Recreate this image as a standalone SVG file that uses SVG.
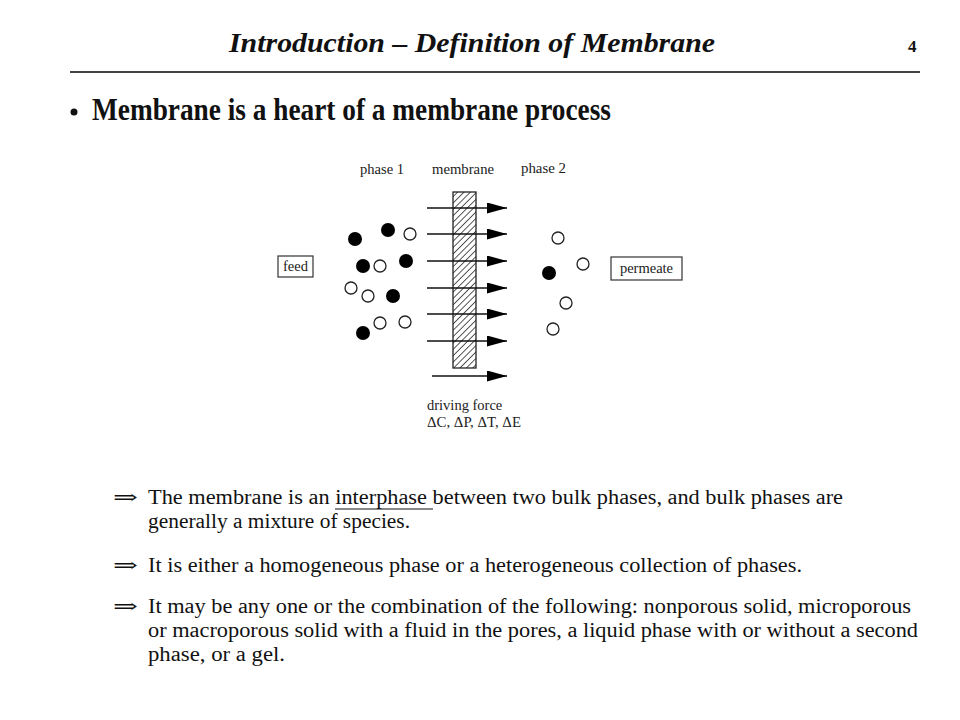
<svg xmlns="http://www.w3.org/2000/svg" width="960" height="720" viewBox="0 0 960 720">
<style>
.title{font-family:"Liberation Serif",serif;font-weight:bold;font-style:italic;font-size:27px;fill:#111}
.head{font-family:"Liberation Serif",serif;font-weight:bold;font-size:31px;fill:#111}
.lbl{font-family:"Liberation Serif",serif;font-size:14.5px;fill:#222}
.body{font-family:"Liberation Serif",serif;font-size:20px;fill:#111}
.sym{font-family:"DejaVu Serif",serif;font-size:20px;fill:#111}
.box{fill:#fff;stroke:#333;stroke-width:1.2}
.f{fill:#000}
.o{fill:#fff;stroke:#222;stroke-width:1.3}
.arr{stroke:#111;stroke-width:1.5;fill:none}
</style>
<defs>
<pattern id="hatch" width="4.5" height="4.5" patternUnits="userSpaceOnUse" patternTransform="rotate(45)">
<rect width="4.5" height="4.5" fill="#fff"/>
<line x1="0" y1="0" x2="0" y2="4.5" stroke="#111" stroke-width="1.4"/>
</pattern>
<marker id="ah" viewBox="0 0 20 11" refX="20" refY="5.5" markerWidth="20" markerHeight="11" markerUnits="userSpaceOnUse" orient="auto">
<path d="M0,0 L20,5.5 L0,11 Z" fill="#000"/>
</marker>
</defs>
<rect width="960" height="720" fill="#fff"/>
<text class="title" x="229" y="52" textLength="486" lengthAdjust="spacingAndGlyphs">Introduction – Definition of Membrane</text>
<text class="title" x="908" y="52" style="font-style:normal;font-size:17px">4</text>
<line x1="70" y1="72" x2="920" y2="72" stroke="#444" stroke-width="2"/>
<circle cx="74" cy="112" r="3.5" fill="#111"/>
<text class="head" x="92" y="120" textLength="519" lengthAdjust="spacingAndGlyphs">Membrane is a heart of a membrane process</text>

<g id="labels">
<text class="lbl" x="360" y="174" textLength="44" lengthAdjust="spacingAndGlyphs">phase 1</text>
<text class="lbl" x="432" y="174" textLength="62" lengthAdjust="spacingAndGlyphs">membrane</text>
<text class="lbl" x="521" y="173" textLength="45" lengthAdjust="spacingAndGlyphs">phase 2</text>
<text class="lbl" x="427" y="410">driving force</text>
<text class="lbl" x="427" y="427" textLength="94" lengthAdjust="spacingAndGlyphs">ΔC, ΔP, ΔT, ΔE</text>
</g>

<g id="feed">
<rect class="box" x="278" y="256" width="35" height="21"/>
<text class="lbl" x="295.5" y="271" text-anchor="middle">feed</text>
</g>
<g id="permeate">
<rect class="box" x="611" y="257" width="71" height="23"/>
<text class="lbl" x="646.5" y="273" text-anchor="middle">permeate</text>
</g>

<g id="membrane">
<rect x="453" y="192" width="23" height="176" fill="url(#hatch)" stroke="#222" stroke-width="1.3"/>
</g>

<g id="connectors">
<line class="arr" x1="427" y1="208" x2="507" y2="208" marker-end="url(#ah)"/>
<line class="arr" x1="427" y1="234" x2="507" y2="234" marker-end="url(#ah)"/>
<line class="arr" x1="427" y1="261" x2="507" y2="261" marker-end="url(#ah)"/>
<line class="arr" x1="427" y1="288" x2="507" y2="288" marker-end="url(#ah)"/>
<line class="arr" x1="427" y1="314" x2="507" y2="314" marker-end="url(#ah)"/>
<line class="arr" x1="427" y1="341" x2="507" y2="341" marker-end="url(#ah)"/>
<line class="arr" x1="432" y1="376" x2="507" y2="376" marker-end="url(#ah)"/>
</g>

<g id="phase1">
<circle class="f" cx="355" cy="239" r="7"/>
<circle class="f" cx="388" cy="230" r="7"/>
<circle class="f" cx="363" cy="266" r="7"/>
<circle class="f" cx="406" cy="261" r="7"/>
<circle class="f" cx="393" cy="296" r="7"/>
<circle class="f" cx="363" cy="333" r="7"/>
<circle class="o" cx="410" cy="234" r="6"/>
<circle class="o" cx="380" cy="266" r="6"/>
<circle class="o" cx="351" cy="288" r="6"/>
<circle class="o" cx="368" cy="296" r="6"/>
<circle class="o" cx="380" cy="323" r="6"/>
<circle class="o" cx="405" cy="322" r="6"/>
</g>
<g id="phase2">
<circle class="o" cx="558" cy="238" r="6"/>
<circle class="o" cx="583" cy="264" r="6"/>
<circle class="f" cx="549" cy="273" r="7"/>
<circle class="o" cx="566" cy="303" r="6"/>
<circle class="o" cx="553" cy="329" r="6"/>
</g>

<g id="text">
<text class="sym" x="113" y="504" textLength="25" lengthAdjust="spacingAndGlyphs">⇒</text>
<text class="body" x="148" y="504" textLength="695" lengthAdjust="spacingAndGlyphs">The membrane is an interphase between two bulk phases, and bulk phases are</text>
<line x1="335" y1="509" x2="433" y2="509" stroke="#111" stroke-width="1.2"/>
<text class="body" x="148" y="528" textLength="262" lengthAdjust="spacingAndGlyphs">generally a mixture of species.</text>
<text class="sym" x="113" y="572" textLength="25" lengthAdjust="spacingAndGlyphs">⇒</text>
<text class="body" x="148" y="572" textLength="654" lengthAdjust="spacingAndGlyphs">It is either a homogeneous phase or a heterogeneous collection of phases.</text>
<text class="sym" x="113" y="613" textLength="25" lengthAdjust="spacingAndGlyphs">⇒</text>
<text class="body" x="148" y="613" textLength="763" lengthAdjust="spacingAndGlyphs">It may be any one or the combination of the following: nonporous solid, microporous</text>
<text class="body" x="148" y="637" textLength="770" lengthAdjust="spacingAndGlyphs">or macroporous solid with a fluid in the pores, a liquid phase with or without a second</text>
<text class="body" x="148" y="661" textLength="137" lengthAdjust="spacingAndGlyphs">phase, or a gel.</text>
</g>
</svg>
